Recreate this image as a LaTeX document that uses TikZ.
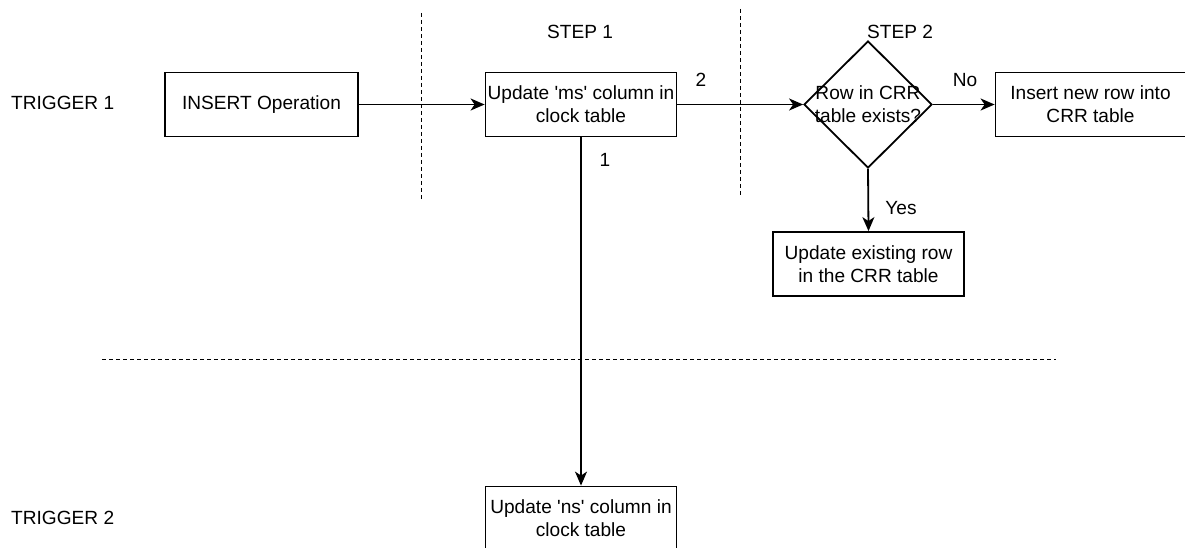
\documentclass[tikz,border=0pt]{standalone}
\usepackage{fontspec}
\setmainfont{Liberation Sans}
\usetikzlibrary{shapes.geometric,arrows.meta}
\begin{document}
\begin{tikzpicture}[x=1pt,y=-1pt,
  every node/.style={font=\fontsize{19.1}{23}\selectfont, text=black},
  box/.style={draw, line width=1.8pt, minimum width=191pt, minimum height=64pt, inner sep=0pt, align=center},
  dec/.style={draw, diamond, line width=1.8pt, minimum width=128pt, minimum height=127pt, inner sep=0pt},
  conn/.style={line width=1.8pt, -{Stealth[length=14pt,width=12pt,inset=4pt]}},
  sep/.style={line width=1.2pt, dash pattern=on 4pt off 3pt},
  lbl/.style={inner sep=0pt, anchor=center},
  side/.style={inner sep=0pt, anchor=west}]
\useasboundingbox (0,0) rectangle (1185,548);

% separators
\coordinate (v1t) at (421.5,13);  \coordinate (v1b) at (421.5,200);
\coordinate (v2t) at (740.5,9);   \coordinate (v2b) at (740.5,195);
\coordinate (hl)  at (102,359.5); \coordinate (hr)  at (1056,359.5);
\draw[sep] (v1t) -- (v1b);
\draw[sep] (v2t) -- (v2b);
\draw[sep] (hl) -- (hr);

% side labels
\node[side] (t1) at (11,103) {TRIGGER 1};
\node[side] (t2) at (11,518) {TRIGGER 2};
\node[lbl] (s1) at (580,32) {STEP 1};
\node[lbl] (s2) at (900,32) {STEP 2};

% nodes
\node[box, minimum width=193pt] (ins) at (261.5,104.5) {INSERT Operation};
\node[box] (ms) at (581,104.5) {Update \textquotesingle ms\textquotesingle{} column in\\clock table};
\node[dec] (dia) at (868,104.5) {};
\node[lbl, align=center] (diat) at (868,104.5) {Row in CRR\\table exists?};
\node[box, minimum width=190pt] (newrow) at (1090.5,104.5) {Insert new row into\\CRR table};
\node[box] (exist) at (868.5,264) {Update existing row\\in the CRR table};
\node[box] (ns) at (581,518.5) {Update \textquotesingle ns\textquotesingle{} column in\\clock table};

% connectors
\draw[conn] (ins.east) -- (ms.west);
\draw[conn] (ms.east) -- (dia.west);
\draw[conn] (dia.east) -- (newrow.west);
\draw[conn] (dia.south) -- (exist.north);
\draw[conn] (ms.south) -- (ns.north);

% connector labels
\node[lbl] (l2) at (701,80) {2};
\node[lbl] (l1) at (605,160) {1};
\node[lbl] (lno) at (965,80) {No};
\node[lbl] (lyes) at (901,208) {Yes};
\end{tikzpicture}
\end{document}
